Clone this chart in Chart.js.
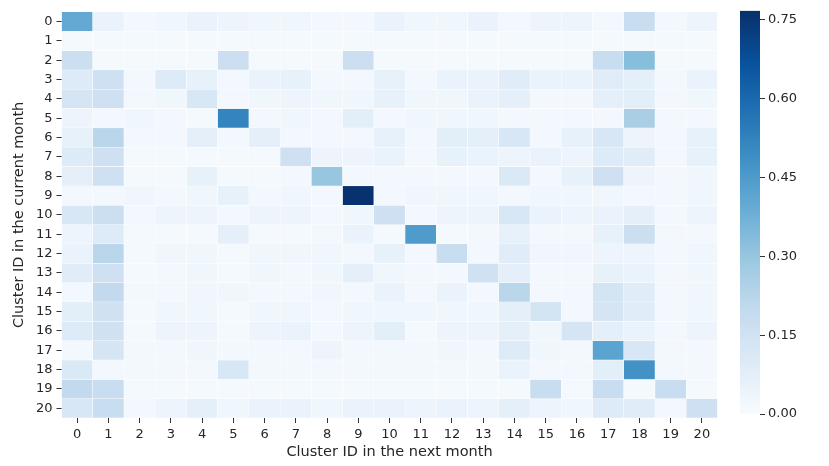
<!DOCTYPE html>
<html><head><meta charset="utf-8">
<script src="https://cdn.jsdelivr.net/npm/chart.js@4.4.0/dist/chart.umd.min.js"></script>
<style>
html,body{margin:0;padding:0;background:#fff;width:829px;height:466px;overflow:hidden}
#main{position:absolute;left:0;top:0;width:735px;height:466px}
#cbar{position:absolute;left:730px;top:0;width:99px;height:466px}
</style></head><body>
<canvas id="main" width="735" height="466"></canvas>
<canvas id="cbar" width="99" height="466"></canvas>
<script>
// ---- data ----
const colLabels = ['0','1','2','3','4','5','6','7','8','9','10','11','12','13','14','15','16','17','18','19','20'];
const rowLabels = ['0','1','2','3','4','5','6','7','8','9','10','11','12','13','14','15','16','17','18','19','20'];
const row0  = [0.40,0.05,0.02,0.03,0.05,0.04,0.03,0.03,0.02,0.02,0.05,0.03,0.03,0.05,0.02,0.04,0.04,0.02,0.18,0.02,0.04];
const row1  = [0.01,0.01,0.01,0.01,0.01,0.01,0.01,0.01,0.01,0.01,0.01,0.01,0.01,0.01,0.01,0.01,0.01,0.01,0.01,0.01,0.01];
const row2  = [0.17,0.01,0.01,0.01,0.01,0.17,0.01,0.01,0.01,0.17,0.01,0.01,0.01,0.01,0.01,0.01,0.01,0.18,0.33,0.01,0.01];
const row3  = [0.10,0.16,0.02,0.10,0.06,0.02,0.05,0.06,0.02,0.02,0.06,0.02,0.05,0.05,0.09,0.05,0.05,0.09,0.07,0.02,0.05];
const row4  = [0.13,0.16,0.02,0.03,0.12,0.02,0.03,0.04,0.03,0.03,0.06,0.03,0.03,0.05,0.07,0.02,0.02,0.07,0.08,0.02,0.03];
const row5  = [0.04,0.02,0.03,0.02,0.01,0.52,0.02,0.03,0.02,0.08,0.02,0.03,0.03,0.03,0.02,0.02,0.02,0.02,0.26,0.02,0.02];
const row6  = [0.06,0.22,0.02,0.02,0.07,0.02,0.07,0.02,0.02,0.02,0.06,0.02,0.08,0.07,0.12,0.02,0.06,0.12,0.04,0.02,0.06];
const row7  = [0.10,0.16,0.01,0.01,0.01,0.01,0.01,0.16,0.04,0.04,0.05,0.02,0.06,0.05,0.04,0.05,0.04,0.10,0.09,0.02,0.06];
const row8  = [0.07,0.16,0.01,0.01,0.06,0.01,0.01,0.02,0.30,0.02,0.02,0.02,0.02,0.02,0.11,0.02,0.06,0.16,0.04,0.02,0.03];
const row9  = [0.02,0.02,0.03,0.02,0.03,0.06,0.02,0.03,0.02,0.76,0.02,0.03,0.03,0.03,0.02,0.03,0.03,0.03,0.02,0.02,0.03];
const row10 = [0.12,0.17,0.02,0.04,0.04,0.02,0.04,0.04,0.02,0.03,0.16,0.02,0.04,0.04,0.12,0.05,0.04,0.05,0.07,0.02,0.04];
const row11 = [0.04,0.10,0.01,0.01,0.01,0.07,0.01,0.01,0.02,0.05,0.01,0.45,0.01,0.02,0.06,0.02,0.02,0.06,0.17,0.02,0.02];
const row12 = [0.05,0.22,0.01,0.03,0.03,0.01,0.03,0.03,0.03,0.02,0.06,0.02,0.18,0.02,0.09,0.03,0.03,0.04,0.04,0.02,0.03];
const row13 = [0.09,0.16,0.01,0.02,0.03,0.01,0.03,0.02,0.03,0.07,0.03,0.02,0.02,0.15,0.07,0.02,0.02,0.06,0.05,0.02,0.03];
const row14 = [0.02,0.20,0.02,0.02,0.03,0.03,0.02,0.02,0.03,0.02,0.05,0.02,0.05,0.02,0.22,0.02,0.02,0.14,0.09,0.02,0.03];
const row15 = [0.08,0.15,0.01,0.03,0.03,0.01,0.03,0.03,0.02,0.03,0.03,0.03,0.03,0.03,0.07,0.14,0.02,0.13,0.09,0.02,0.03];
const row16 = [0.10,0.15,0.01,0.04,0.04,0.01,0.04,0.05,0.02,0.04,0.08,0.01,0.04,0.04,0.07,0.03,0.13,0.07,0.05,0.02,0.04];
const row17 = [0.02,0.13,0.02,0.02,0.03,0.02,0.02,0.02,0.04,0.02,0.02,0.02,0.03,0.02,0.10,0.03,0.02,0.42,0.12,0.02,0.02];
const row18 = [0.11,0.02,0.02,0.02,0.02,0.12,0.02,0.02,0.02,0.02,0.02,0.02,0.02,0.02,0.05,0.02,0.02,0.08,0.48,0.02,0.02];
const row19 = [0.20,0.18,0.01,0.01,0.01,0.01,0.01,0.01,0.01,0.01,0.01,0.01,0.01,0.01,0.01,0.18,0.01,0.18,0.01,0.18,0.01];
const row20 = [0.12,0.18,0.02,0.04,0.07,0.03,0.05,0.05,0.03,0.05,0.05,0.04,0.05,0.04,0.07,0.04,0.03,0.10,0.09,0.02,0.16];
const cbarTicks = [0, 0.15, 0.30, 0.45, 0.60, 0.75];
const vmin = 0, vmax = 0.767;

const matrix = [row0,row1,row2,row3,row4,row5,row6,row7,row8,row9,row10,row11,row12,row13,row14,row15,row16,row17,row18,row19,row20];

// ---- Blues colormap ----
const blues = ['#f7fbff','#deebf7','#c6dbef','#9ecae1','#6baed6','#4292c6','#2171b5','#08519c','#08306b'];
function hex(h){return [parseInt(h.slice(1,3),16),parseInt(h.slice(3,5),16),parseInt(h.slice(5,7),16)];}
const stops = blues.map(hex);
function cmap(v){
  let t = (v - vmin) / (vmax - vmin); t = Math.max(0, Math.min(1, t));
  const p = t * (stops.length - 1); const i = Math.min(Math.floor(p), stops.length - 2); const f = p - i;
  const a = stops[i], b = stops[i+1];
  return 'rgb(' + [0,1,2].map(k => Math.round(a[k] + (b[k]-a[k])*f)).join(',') + ')';
}

const font = {family: "'DejaVu Sans', sans-serif", size: 13};
const titleFont = {family: "'DejaVu Sans', sans-serif", size: 14.5};
const txt = '#262626';

const datasets = matrix.map((row, r) => ({
  label: rowLabels[r],
  data: row.map(() => [r - 0.5, r + 0.5]),
  backgroundColor: row.map(v => cmap(v)),
  borderColor: '#ffffff',
  borderWidth: 0.5,
  borderSkipped: false,
  grouped: false,
  barPercentage: 1,
  categoryPercentage: 1
}));

new Chart(document.getElementById('main'), {
  type: 'bar',
  data: {labels: colLabels, datasets},
  options: {
    responsive: false, animation: false,
    layout: {padding: {top: 8, right: 17.5, left: 0, bottom: 0}},
    plugins: {legend: {display: false}, tooltip: {enabled: false}},
    scales: {
      x: {
        type: 'category', offset: true,
        grid: {display: true, drawOnChartArea: false, drawTicks: true, tickLength: 5, offset: false, color: '#333'},
        border: {display: false},
        ticks: {font, color: txt, padding: 4, maxRotation: 0, autoSkip: false},
        title: {display: true, text: 'Cluster ID in the next month', font: titleFont, color: txt, padding: {top: 0, bottom: 5}},
        afterFit: s => { s.height = 48; }
      },
      y: {
        type: 'linear', reverse: true, min: -0.5, max: 20.5,
        afterBuildTicks: s => { s.ticks = rowLabels.map((_, i) => ({value: i})); },
        grid: {display: true, drawOnChartArea: false, drawTicks: true, tickLength: 5, color: '#333'},
        border: {display: false},
        ticks: {font, color: txt, padding: 4, callback: v => rowLabels[v]},
        title: {display: true, text: 'Cluster ID in the current month', font: titleFont, color: txt, padding: {top: 11, bottom: 0}},
        afterFit: s => { s.width = 61.5; }
      }
    }
  }
});

// ---- colour bar ----
new Chart(document.getElementById('cbar'), {
  type: 'bar',
  data: {labels: [''], datasets: [{
    data: [[vmin, vmax]],
    barPercentage: 1, categoryPercentage: 1, borderWidth: 0,
    backgroundColor: ctx => {
      const ca = ctx.chart.chartArea; if (!ca) return blues[4];
      const g = ctx.chart.ctx.createLinearGradient(0, ca.bottom, 0, ca.top);
      for (let i = 0; i <= 40; i++) { const t = i/40; g.addColorStop(t, cmap(vmin + t*(vmax-vmin))); }
      return g;
    }
  }]},
  options: {
    responsive: false, animation: false,
    layout: {padding: {top: 8, left: 10, right: 0, bottom: 52}},
    plugins: {legend: {display: false}, tooltip: {enabled: false}},
    scales: {
      x: {display: false, offset: true},
      y: {
        position: 'right', min: vmin, max: vmax,
        afterBuildTicks: s => { s.ticks = cbarTicks.map(v => ({value: v})); },
        grid: {display: true, drawOnChartArea: false, drawTicks: true, tickLength: 5, color: '#333'},
        border: {display: false},
        ticks: {font, color: txt, padding: 3, callback: v => Number(v).toFixed(2)},
        afterFit: s => { s.width = 69; }
      }
    }
  }
});
</script>
</body></html>
